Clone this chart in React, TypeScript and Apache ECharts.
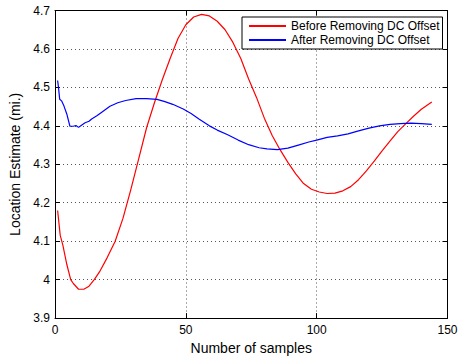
import React, { useEffect, useRef } from "react";
import * as echarts from "echarts";

const redX = [1, 2, 3, 4.5, 6, 7, 9, 11, 13, 15, 17, 20, 23, 26, 29, 32, 35, 38, 41, 44, 47, 50, 53, 56, 59, 62, 65, 68, 71, 74, 77, 80, 83, 86, 89, 92, 95, 98, 101, 104, 107, 110, 113, 116, 119, 122, 125, 128, 131, 134, 137, 140, 144];
const redY = [4.18, 4.115, 4.09, 4.04, 4.0, 3.99, 3.975, 3.975, 3.983, 4.0, 4.02, 4.058, 4.1, 4.16, 4.235, 4.315, 4.395, 4.46, 4.52, 4.575, 4.627, 4.663, 4.683, 4.69, 4.686, 4.672, 4.65, 4.617, 4.575, 4.522, 4.474, 4.42, 4.375, 4.338, 4.305, 4.275, 4.25, 4.235, 4.228, 4.224, 4.225, 4.231, 4.242, 4.26, 4.283, 4.308, 4.335, 4.36, 4.385, 4.405, 4.425, 4.443, 4.462];

const blueX = [1, 1.3, 1.8, 2.5, 3.4, 4.5, 5.7, 7, 8, 9, 10, 11.5, 13, 14, 16, 18, 21, 24, 27, 31, 35, 39, 42, 45, 49, 52, 55, 59, 62, 66, 70, 74, 78, 81, 85, 89, 93, 97, 100, 104, 108, 112, 116, 120, 124, 128, 132, 136, 140, 144];
const blueY = [4.518, 4.502, 4.469, 4.465, 4.452, 4.431, 4.399, 4.399, 4.401, 4.396, 4.401, 4.408, 4.412, 4.418, 4.426, 4.436, 4.451, 4.46, 4.466, 4.471, 4.471, 4.469, 4.463, 4.456, 4.444, 4.432, 4.418, 4.4, 4.389, 4.377, 4.363, 4.351, 4.343, 4.34, 4.338, 4.342, 4.35, 4.358, 4.363, 4.37, 4.374, 4.379, 4.387, 4.394, 4.4, 4.404, 4.406, 4.407, 4.406, 4.404];

const seriesNames = ["Before Removing DC Offset", "After Removing DC Offset"];
const xTitle = "Number of samples";
const yTitle = "Location Estimate (mi.)";
const xMin = 0, xMax = 150, xStep = 50;
const yMin = 3.9, yMax = 4.7, yStep = 0.1;

const FONT = "'Liberation Sans', Arial, Helvetica, sans-serif";

export default function App() {
  const ref = useRef<HTMLDivElement>(null);
  useEffect(() => {
    if (!ref.current) return;
    const chart = echarts.init(ref.current, null, { renderer: "svg" });
    const pair = (xs: number[], ys: number[]) => xs.map((x, i) => [x, ys[i]]);
    const tick = { show: true, inside: true, length: 5, lineStyle: { color: "#000", width: 1 } };
    const axLine = { show: true, onZero: false, lineStyle: { color: "#000", width: 1 } };
    const split = { show: true, lineStyle: { color: "#555", width: 1, type: [1, 3] as any } };
    chart.setOption({
      animation: false,
      backgroundColor: "#fff",
      textStyle: { fontFamily: FONT },
      grid: { left: 55, right: 13.5, top: 10.5, bottom: 39.5, containLabel: false },
      legend: {
        data: seriesNames,
        orient: "vertical",
        left: 242,
        top: 17,
        backgroundColor: "#fff",
        borderColor: "#000",
        borderWidth: 1,
        borderRadius: 0,
        padding: [3, 3, 3, 7],
        itemGap: 2,
        itemWidth: 37,
        itemHeight: 2,
        icon: "rect",
        textStyle: { fontSize: 12, color: "#000", fontFamily: FONT },
      },
      xAxis: [
        {
          type: "value", min: xMin, max: xMax, interval: xStep, position: "bottom",
          name: xTitle, nameLocation: "middle", nameGap: 18,
          nameTextStyle: { fontSize: 14, color: "#000", fontFamily: FONT },
          axisLine: axLine, axisTick: tick,
          axisLabel: { fontSize: 12, color: "#000", margin: 6, fontFamily: FONT },
          splitLine: split,
        },
        {
          type: "value", min: xMin, max: xMax, interval: xStep, position: "top",
          axisLine: axLine, axisTick: tick, axisLabel: { show: false }, splitLine: { show: false },
        },
      ],
      yAxis: [
        {
          type: "value", min: yMin, max: yMax, interval: yStep, position: "left",
          name: yTitle, nameLocation: "middle", nameGap: 27,
          nameTextStyle: { fontSize: 14, color: "#000", fontFamily: FONT },
          axisLine: axLine, axisTick: tick,
          axisLabel: { fontSize: 12, color: "#000", margin: 5, fontFamily: FONT,
            formatter: (v: number) => String(parseFloat(v.toFixed(1))) },
          splitLine: split,
        },
        {
          type: "value", min: yMin, max: yMax, interval: yStep, position: "right",
          axisLine: axLine, axisTick: tick, axisLabel: { show: false }, splitLine: { show: false },
        },
      ],
      series: [
        {
          name: seriesNames[0], type: "line", data: pair(redX, redY), smooth: false,
          symbol: "none", xAxisIndex: 0, yAxisIndex: 0,
          lineStyle: { color: "#ff0000", width: 1.2 }, itemStyle: { color: "#ff0000" },
        },
        {
          name: seriesNames[1], type: "line", data: pair(blueX, blueY), smooth: false,
          symbol: "none", xAxisIndex: 0, yAxisIndex: 0,
          lineStyle: { color: "#0000ff", width: 1.2 }, itemStyle: { color: "#0000ff" },
        },
      ],
    });
    return () => chart.dispose();
  }, []);
  return <div ref={ref} style={{ width: 461, height: 360, position: "absolute", left: 0, top: 0 }} />;
}
